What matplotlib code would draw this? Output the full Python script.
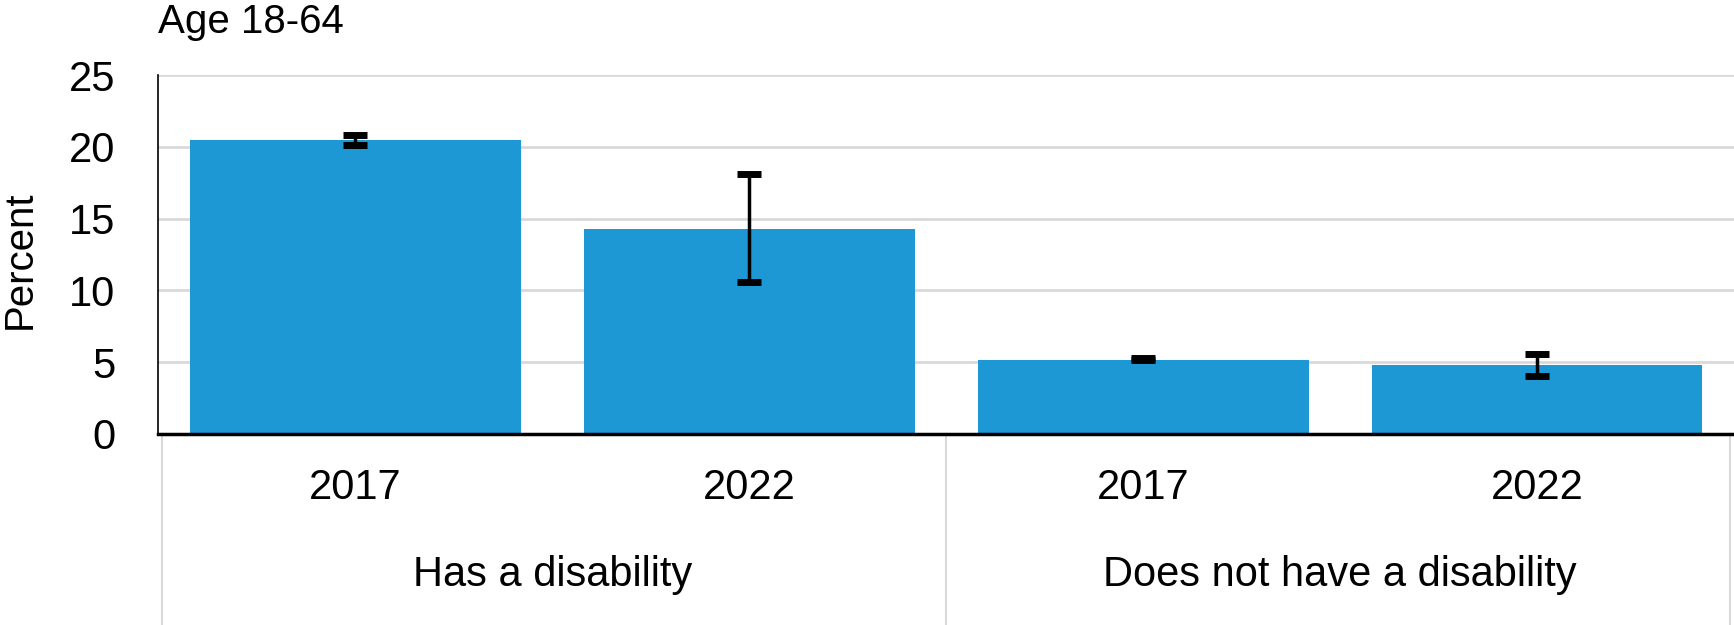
import numpy as np
import matplotlib.pyplot as plt
from matplotlib import transforms

plt.rcParams['font.family'] = ['Liberation Sans', 'DejaVu Sans']

# data
groups = ["Has a disability", "Does not have a disability"]
years = ["2017", "2022", "2017", "2022"]
values = [20.45, 14.27, 5.17, 4.78]
err_low = [20.14, 10.57, 5.12, 4.01]
err_high = [20.83, 18.13, 5.27, 5.56]
yticks = [0, 5, 10, 15, 20, 25]

BAR_COLOR = "#1e98d4"
GRID = "#d9d9d9"

fig = plt.figure(figsize=(17.34, 6.25), dpi=100)
ax = fig.add_axes([0.0913, 0.306, 0.9087, 0.574])

x = np.arange(len(values))
ax.bar(x, values, width=0.84, color=BAR_COLOR, zorder=2)
lo = np.array(values) - np.array(err_low)
hi = np.array(err_high) - np.array(values)
ax.errorbar(x, values, yerr=[lo, hi], fmt="none", ecolor="black",
            elinewidth=2.5, capsize=8.5, capthick=5, zorder=3)

ax.set_xlim(-0.5, 3.5)
ax.set_ylim(0, 25)
ax.set_yticks(yticks)
ax.set_yticklabels([str(t) for t in yticks], fontsize=30)
ax.tick_params(axis="y", length=0, pad=31)
ax.set_xticks([])
ax.yaxis.grid(True, color=GRID, linewidth=2, zorder=0)
ax.set_axisbelow(True)

for s in ["top", "right"]:
    ax.spines[s].set_visible(False)
ax.spines["left"].set_linewidth(1.2)
ax.spines["bottom"].set_linewidth(2.5)

# category axis below the plot
tr = transforms.blended_transform_factory(ax.transData, ax.transAxes)
for xi, yr in zip(x, years):
    ax.text(xi, -0.15, yr, transform=tr, ha="center", va="center", fontsize=30)
for gi, g in enumerate(groups):
    ax.text(gi * 2 + 0.5, -0.393, g, transform=tr, ha="center", va="center", fontsize=30)
for sx in [-0.49, 1.5, 3.49]:
    ax.plot([sx, sx], [0, -0.6], transform=tr, color=GRID, linewidth=1.5, clip_on=False)

fig.text(0.0913, 0.995, "Age 18-64", ha="left", va="top", fontsize=29)
fig.text(0.0115, 0.584, "Percent", rotation=90, ha="center", va="center", fontsize=29)

fig.savefig("out.png", dpi=100)
